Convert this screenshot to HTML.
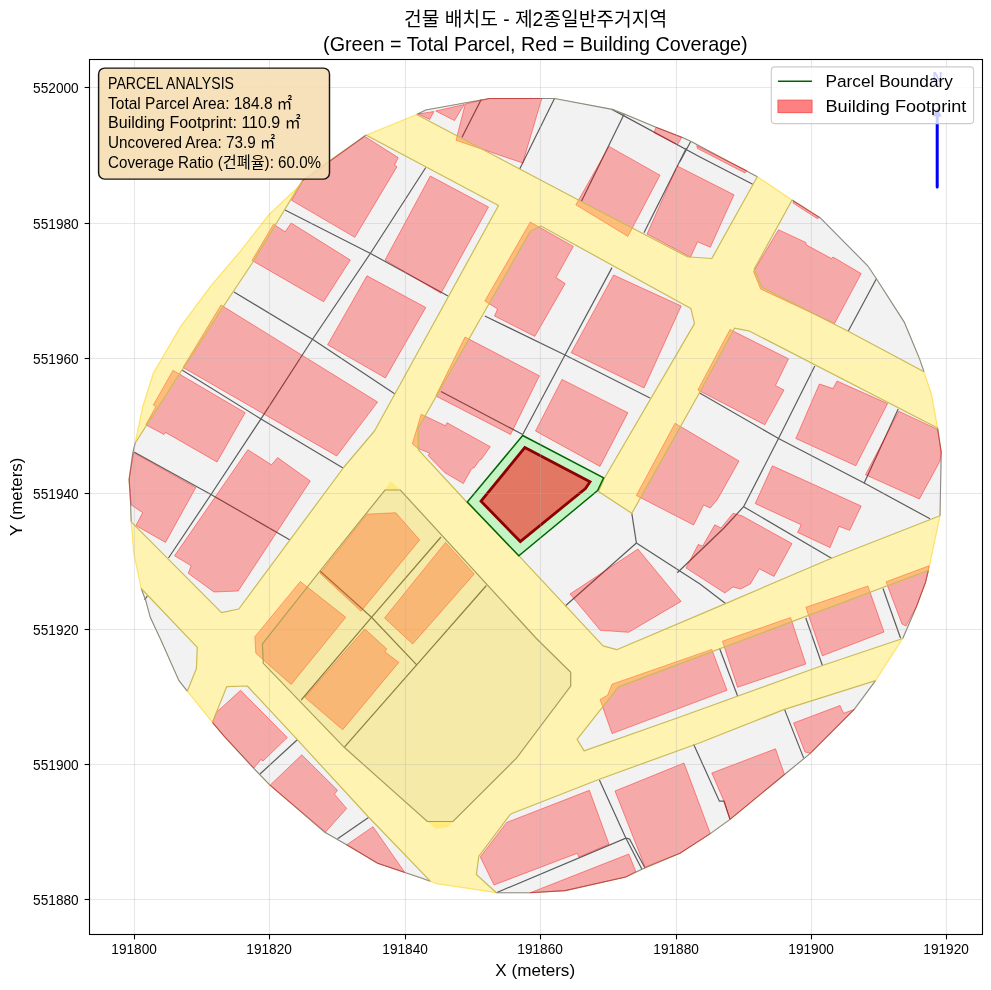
<!DOCTYPE html>
<html lang="ko"><head><meta charset="utf-8"><title>건물 배치도</title>
<style>html,body{margin:0;padding:0;background:#fff}svg{display:block}text{font-family:'Liberation Sans','Noto Sans CJK KR',sans-serif;fill:#000}</style></head><body>
<svg width="991" height="990" viewBox="0 0 991 990">
<rect width="991" height="990" fill="#fff"/>
<clipPath id="ax"><rect x="89.5" y="59.5" width="893.0" height="875.0"/></clipPath>
<g clip-path="url(#ax)">
<polygon points="416.7,114.5 425.8,110.0 489.4,98.5 554.5,98.5 612.1,109.4 624.2,113.9 656.1,127.3 681.8,137.3 690.6,141.2 757.3,176.7 792.1,200.0 820.0,217.6 867.9,266.1 876.4,278.8 904.2,322.1 911.8,340.0 923.9,371.8 931.5,394.5 937.6,427.9 941.2,452.1 940.0,515.8 928.5,570.3 925.5,582.4 916.4,606.7 902.7,638.5 875.5,680.6 854.2,709.4 810.3,753.3 784.5,774.5 730.0,819.4 710.3,833.6 680.0,853.3 642.4,869.1 625.8,877.0 565.2,890.6 530.3,892.7 496.4,892.7 436.4,883.6 430.3,881.2 420.0,877.6 404.8,872.4 377.6,863.3 345.8,844.2 324.5,832.1 270.0,785.2 253.3,767.9 224.5,736.7 212.4,722.4 187.3,691.2 179.1,680.6 160.9,640.0 150.3,617.3 145.8,600.6 141.2,588.5 133.6,552.1 131.2,521.8 130.6,503.6 129.1,479.4 132.7,453.6 135.2,443.0 142.7,406.7 153.3,373.3 165.5,352.4 180.6,326.7 210.9,285.8 240.4,251.2 268.7,214.8 305.0,180.5 329.3,160.8 366.1,135.2" fill="none" stroke="#ffe57a" stroke-width="1.2"/>
<polygon points="366.0,135.0 498.5,205.5 374.5,431.0 344.0,467.0 238.8,609.0 221.5,612.7 131.2,521.8 130.6,503.6 129.1,479.4 132.7,453.6 135.2,443.0 182.0,370.0 189.0,360.0 223.0,307.0 253.3,261.5 302.0,181.0" fill="#f2f2f2"/>
<polygon points="416.7,114.5 425.8,110.0 489.4,98.5 554.5,98.5 612.1,109.4 624.2,113.9 656.0,127.3 681.8,137.3 690.6,141.2 757.3,176.7 711.8,258.5 690.0,257.0 687.9,257.0 581.8,201.8 519.7,169.0" fill="#f2f2f2"/>
<polygon points="792.1,200.0 820.0,217.6 867.9,266.0 876.4,278.8 904.2,322.1 919.4,358.5 924.0,371.8 848.2,331.2 761.8,287.3 754.2,269.0" fill="#f2f2f2"/>
<polygon points="530.3,231.2 540.9,226.0 690.9,308.5 694.5,323.6 604.5,478.0 598.5,491.5 631.8,513.3 701.0,390.0 734.5,328.2 749.7,331.2 937.6,428.0 941.2,452.1 940.0,515.8 831.5,558.2 725.5,603.6 616.7,649.7 603.0,645.8 519.7,556.7 466.7,502.0 418.2,449.7 418.2,428.0" fill="#f2f2f2"/>
<polygon points="618.5,686.9 770.0,629.9 928.5,570.3 925.5,582.4 916.4,606.7 902.7,638.5 822.4,665.5 680.0,717.0 584.1,750.9 577.1,739.4" fill="#f2f2f2"/>
<polygon points="875.5,680.6 854.2,709.4 810.3,753.3 784.5,774.5 730.0,819.4 710.3,833.6 680.0,853.3 642.4,869.1 625.8,877.0 565.2,890.6 530.3,892.7 496.4,892.7 476.4,874.5 478.8,856.4 510.6,814.0 600.0,779.0 700.0,742.7 784.5,709.4" fill="#f2f2f2"/>
<polygon points="141.2,588.5 197.3,647.3 196.4,668.5 187.3,691.2 179.0,680.6 160.9,640.0 150.3,617.3 145.8,600.6" fill="#f2f2f2"/>
<polygon points="226.7,686.7 247.3,686.0 297.3,739.7 368.5,817.0 430.3,881.2 420.0,877.6 404.8,872.4 377.6,863.3 345.8,844.2 324.5,832.1 270.0,785.2 253.3,767.9 224.5,736.7 212.4,722.4" fill="#f2f2f2"/>
<polygon points="385.0,490.0 400.3,490.0 536.4,638.5 570.7,672.3 570.7,686.0 516.7,757.9 453.0,821.5 427.3,821.5 344.2,747.3 263.3,663.3 262.4,644.0 320.0,571.0" fill="#f2f2f2"/>
<polyline points="320.0,571.0 371.5,617.3 416.7,664.8" fill="none" stroke="#5c5c5c" stroke-width="1.2"/>
<polyline points="441.0,537.0 371.5,617.3 301.2,700.0" fill="none" stroke="#5c5c5c" stroke-width="1.2"/>
<polyline points="486.4,585.5 416.7,664.8 344.2,747.3" fill="none" stroke="#5c5c5c" stroke-width="1.2"/>
<polyline points="425.8,167.5 370.0,254.0 312.0,340.0 261.0,418.8 211.0,494.5 168.5,558.0" fill="none" stroke="#5c5c5c" stroke-width="1.2"/>
<polyline points="285.0,210.0 371.5,254.0 448.0,296.0" fill="none" stroke="#5c5c5c" stroke-width="1.2"/>
<polyline points="234.0,292.0 314.0,340.3 395.0,394.0" fill="none" stroke="#5c5c5c" stroke-width="1.2"/>
<polyline points="182.0,370.0 261.0,419.0 343.0,468.0" fill="none" stroke="#5c5c5c" stroke-width="1.2"/>
<polyline points="134.0,452.0 211.0,494.5 290.0,540.0" fill="none" stroke="#5c5c5c" stroke-width="1.2"/>
<polyline points="481.2,99.4 462.0,137.3" fill="none" stroke="#5c5c5c" stroke-width="1.2"/>
<polyline points="554.5,98.5 519.7,169.0" fill="none" stroke="#5c5c5c" stroke-width="1.2"/>
<polyline points="624.2,114.0 581.2,201.8" fill="none" stroke="#5c5c5c" stroke-width="1.2"/>
<polyline points="612.0,109.4 700.0,157.0 752.7,184.2" fill="none" stroke="#5c5c5c" stroke-width="1.2"/>
<polyline points="686.4,148.0 644.0,232.7" fill="none" stroke="#5c5c5c" stroke-width="1.2"/>
<polyline points="690.6,141.8 680.0,161.5" fill="none" stroke="#5c5c5c" stroke-width="1.2"/>
<polyline points="876.4,278.8 848.2,331.2" fill="none" stroke="#5c5c5c" stroke-width="1.2"/>
<polyline points="441.0,391.5 522.7,434.5" fill="none" stroke="#5c5c5c" stroke-width="1.2"/>
<polyline points="522.7,434.5 565.0,355.0 612.0,267.6" fill="none" stroke="#5c5c5c" stroke-width="1.2"/>
<polyline points="484.8,316.0 565.0,355.0 650.0,398.0" fill="none" stroke="#5c5c5c" stroke-width="1.2"/>
<polyline points="631.8,513.3 636.4,543.0" fill="none" stroke="#5c5c5c" stroke-width="1.2"/>
<polyline points="636.4,543.0 565.2,606.0" fill="none" stroke="#5c5c5c" stroke-width="1.2"/>
<polyline points="636.4,543.0 700.0,584.0 725.5,603.6" fill="none" stroke="#5c5c5c" stroke-width="1.2"/>
<polyline points="677.3,572.7 724.0,528.0 743.6,506.7 778.5,438.5 814.8,366.0" fill="none" stroke="#5c5c5c" stroke-width="1.2"/>
<polyline points="699.7,393.0 778.5,438.5 864.2,483.0 930.0,518.8" fill="none" stroke="#5c5c5c" stroke-width="1.2"/>
<polyline points="743.6,506.7 831.5,558.2" fill="none" stroke="#5c5c5c" stroke-width="1.2"/>
<polyline points="898.2,409.0 864.2,483.0" fill="none" stroke="#5c5c5c" stroke-width="1.2"/>
<polyline points="719.4,648.0 737.6,696.0" fill="none" stroke="#5c5c5c" stroke-width="1.2"/>
<polyline points="805.8,618.0 822.4,665.5" fill="none" stroke="#5c5c5c" stroke-width="1.2"/>
<polyline points="883.0,588.5 900.6,638.2" fill="none" stroke="#5c5c5c" stroke-width="1.2"/>
<polyline points="784.5,709.4 803.6,757.9" fill="none" stroke="#5c5c5c" stroke-width="1.2"/>
<polyline points="693.6,744.2 719.4,801.2 724.0,801.2 730.0,819.4" fill="none" stroke="#5c5c5c" stroke-width="1.2"/>
<polyline points="599.4,780.0 625.8,838.0 641.8,869.0" fill="none" stroke="#5c5c5c" stroke-width="1.2"/>
<polyline points="629.4,838.8 625.8,838.2 496.4,892.7" fill="none" stroke="#5c5c5c" stroke-width="1.2"/>
<polyline points="629.4,838.8 645.0,868.0" fill="none" stroke="#5c5c5c" stroke-width="1.2"/>
<polyline points="144.6,600.0 147.3,596.0" fill="none" stroke="#5c5c5c" stroke-width="1.2"/>
<polyline points="297.3,739.7 260.0,774.0" fill="none" stroke="#5c5c5c" stroke-width="1.2"/>
<polyline points="368.5,817.6 337.6,838.8" fill="none" stroke="#5c5c5c" stroke-width="1.2"/>
<polyline points="131.2,521.8 130.6,503.6 129.1,479.4 132.7,453.6 135.2,443.0" fill="none" stroke="#8a8a8a" stroke-width="1.1"/>
<polyline points="302.0,181.0 366.0,135.0" fill="none" stroke="#8a8a8a" stroke-width="1.1"/>
<polyline points="416.7,114.5 425.8,110.0 489.4,98.5 554.5,98.5 612.1,109.4 624.2,113.9 656.0,127.3 681.8,137.3 690.6,141.2 757.3,176.7" fill="none" stroke="#8a8a8a" stroke-width="1.1"/>
<polyline points="792.1,200.0 820.0,217.6 867.9,266.0 876.4,278.8 904.2,322.1 919.4,358.5 924.0,371.8" fill="none" stroke="#8a8a8a" stroke-width="1.1"/>
<polyline points="937.6,428.0 941.2,452.1 940.0,515.8" fill="none" stroke="#8a8a8a" stroke-width="1.1"/>
<polyline points="928.5,570.3 925.5,582.4 916.4,606.7 902.7,638.5" fill="none" stroke="#8a8a8a" stroke-width="1.1"/>
<polyline points="875.5,680.6 854.2,709.4 810.3,753.3 784.5,774.5 730.0,819.4 710.3,833.6 680.0,853.3 642.4,869.1 625.8,877.0 565.2,890.6 530.3,892.7 496.4,892.7" fill="none" stroke="#8a8a8a" stroke-width="1.1"/>
<polyline points="187.3,691.2 179.0,680.6 160.9,640.0 150.3,617.3 145.8,600.6 141.2,588.5" fill="none" stroke="#8a8a8a" stroke-width="1.1"/>
<polyline points="430.3,881.2 420.0,877.6 404.8,872.4 377.6,863.3 345.8,844.2 324.5,832.1 270.0,785.2 253.3,767.9 224.5,736.7 212.4,722.4" fill="none" stroke="#8a8a8a" stroke-width="1.1"/>
<polygon points="364.8,136.4 398.2,157.6 394.5,165.2 397.0,166.7 354.8,237.3 291.5,200.3 303.5,179.8" fill="#ff0000" fill-opacity="0.3" stroke="#ff0000" stroke-opacity="0.4" stroke-width="1"/>
<polygon points="273.5,224.2 285.2,231.8 291.2,223.0 350.3,260.0 323.6,301.8 252.0,260.5" fill="#ff0000" fill-opacity="0.3" stroke="#ff0000" stroke-opacity="0.4" stroke-width="1"/>
<polygon points="430.3,176.0 488.5,207.0 441.0,293.3 385.0,260.0" fill="#ff0000" fill-opacity="0.3" stroke="#ff0000" stroke-opacity="0.4" stroke-width="1"/>
<polygon points="367.0,275.8 425.8,307.5 385.4,378.0 327.6,344.8" fill="#ff0000" fill-opacity="0.3" stroke="#ff0000" stroke-opacity="0.4" stroke-width="1"/>
<polygon points="221.0,305.0 377.6,402.0 336.7,456.0 183.0,367.5" fill="#ff0000" fill-opacity="0.3" stroke="#ff0000" stroke-opacity="0.4" stroke-width="1"/>
<polygon points="173.0,370.3 245.2,412.7 217.0,462.0 165.5,432.4 164.0,434.5 145.8,424.8 155.8,406.7 153.3,405.0" fill="#ff0000" fill-opacity="0.3" stroke="#ff0000" stroke-opacity="0.4" stroke-width="1"/>
<polygon points="133.6,452.7 195.8,487.6 165.5,542.4 135.8,525.5 142.7,512.7 131.2,505.0 129.1,479.4" fill="#ff0000" fill-opacity="0.3" stroke="#ff0000" stroke-opacity="0.4" stroke-width="1"/>
<polygon points="247.9,449.7 271.5,464.8 277.6,457.6 310.3,481.0 238.2,591.0 214.0,592.0 188.2,573.3 191.2,565.8 174.5,555.8" fill="#ff0000" fill-opacity="0.3" stroke="#ff0000" stroke-opacity="0.4" stroke-width="1"/>
<polygon points="418.2,114.0 433.9,111.5 429.7,119.4" fill="#ff0000" fill-opacity="0.3" stroke="#ff0000" stroke-opacity="0.4" stroke-width="1"/>
<polygon points="435.8,111.0 464.2,104.5 454.5,120.6" fill="#ff0000" fill-opacity="0.3" stroke="#ff0000" stroke-opacity="0.4" stroke-width="1"/>
<polygon points="465.2,104.0 489.4,98.5 541.8,98.5 522.7,163.0 456.0,140.3" fill="#ff0000" fill-opacity="0.3" stroke="#ff0000" stroke-opacity="0.4" stroke-width="1"/>
<polygon points="609.0,146.4 660.0,175.2 627.9,236.4 575.8,204.8" fill="#ff0000" fill-opacity="0.3" stroke="#ff0000" stroke-opacity="0.4" stroke-width="1"/>
<polygon points="677.3,166.0 734.0,194.8 710.3,247.3 697.6,241.8 690.6,257.0 689.0,256.4 647.0,234.0" fill="#ff0000" fill-opacity="0.3" stroke="#ff0000" stroke-opacity="0.4" stroke-width="1"/>
<polygon points="656.0,127.3 681.8,137.3 677.3,144.8 654.0,132.7" fill="#ff0000" fill-opacity="0.3" stroke="#ff0000" stroke-opacity="0.4" stroke-width="1"/>
<polygon points="696.7,145.8 746.7,170.6 745.0,173.0 697.6,148.5" fill="#ff0000" fill-opacity="0.3" stroke="#ff0000" stroke-opacity="0.4" stroke-width="1"/>
<polygon points="778.5,229.7 805.8,242.4 806.5,245.0 831.5,258.5 833.0,257.0 861.2,273.6 834.5,323.6 760.6,289.0 753.5,271.5" fill="#ff0000" fill-opacity="0.3" stroke="#ff0000" stroke-opacity="0.4" stroke-width="1"/>
<polygon points="793.6,201.0 819.4,217.6 817.0,218.5 793.0,203.0" fill="#ff0000" fill-opacity="0.3" stroke="#ff0000" stroke-opacity="0.4" stroke-width="1"/>
<polygon points="530.3,222.0 573.3,246.4 556.0,277.6 565.2,283.6 534.8,336.4 494.5,316.0 497.6,309.0 484.8,301.0" fill="#ff0000" fill-opacity="0.3" stroke="#ff0000" stroke-opacity="0.4" stroke-width="1"/>
<polygon points="613.6,275.0 681.2,306.0 644.0,388.0 571.2,352.7" fill="#ff0000" fill-opacity="0.3" stroke="#ff0000" stroke-opacity="0.4" stroke-width="1"/>
<polygon points="465.0,337.0 539.4,375.8 510.6,434.5 435.8,396.0" fill="#ff0000" fill-opacity="0.3" stroke="#ff0000" stroke-opacity="0.4" stroke-width="1"/>
<polygon points="562.0,379.4 627.9,412.7 600.0,466.4 535.5,431.0" fill="#ff0000" fill-opacity="0.3" stroke="#ff0000" stroke-opacity="0.4" stroke-width="1"/>
<polygon points="421.2,414.2 445.5,425.8 447.0,422.7 490.3,446.7 481.2,459.5 479.5,460.2 474.4,467.5 471.7,468.6 463.3,483.6 444.6,472.5 428.3,455.7 429.5,453.1 418.2,448.6 412.3,444.0" fill="#ff0000" fill-opacity="0.3" stroke="#ff0000" stroke-opacity="0.4" stroke-width="1"/>
<polygon points="637.9,549.0 681.1,601.4 628.6,632.3 600.3,630.3 570.0,594.0" fill="#ff0000" fill-opacity="0.3" stroke="#ff0000" stroke-opacity="0.4" stroke-width="1"/>
<polygon points="675.0,423.3 739.0,461.0 719.4,496.0 717.0,500.0 710.3,508.0 703.6,505.0 693.6,525.0 636.3,495.5" fill="#ff0000" fill-opacity="0.3" stroke="#ff0000" stroke-opacity="0.4" stroke-width="1"/>
<polygon points="730.0,329.5 788.5,358.8 775.5,385.5 784.0,390.0 764.8,424.8 697.8,390.0" fill="#ff0000" fill-opacity="0.3" stroke="#ff0000" stroke-opacity="0.4" stroke-width="1"/>
<polygon points="819.4,384.0 833.0,388.5 837.0,381.0 887.6,403.6 855.8,465.8 795.8,438.5" fill="#ff0000" fill-opacity="0.3" stroke="#ff0000" stroke-opacity="0.4" stroke-width="1"/>
<polygon points="898.8,411.2 937.6,429.4 941.2,452.0 940.0,461.0 919.4,499.0 865.5,474.8" fill="#ff0000" fill-opacity="0.3" stroke="#ff0000" stroke-opacity="0.4" stroke-width="1"/>
<polygon points="772.4,465.8 861.2,506.0 849.7,530.3 839.0,526.4 830.0,547.6 797.6,532.4 801.2,524.8 755.2,503.6" fill="#ff0000" fill-opacity="0.3" stroke="#ff0000" stroke-opacity="0.4" stroke-width="1"/>
<polygon points="733.0,513.3 742.0,515.8 792.0,543.6 774.0,576.4 759.4,568.8 750.3,584.0 740.6,589.0 733.0,587.0 724.8,593.0 686.0,568.0 698.2,544.5 702.7,546.0 714.8,524.8 721.0,528.0" fill="#ff0000" fill-opacity="0.3" stroke="#ff0000" stroke-opacity="0.4" stroke-width="1"/>
<polygon points="600.0,699.4 607.6,695.2 612.0,684.2 711.8,649.4 727.0,690.3 612.0,733.6" fill="#ff0000" fill-opacity="0.3" stroke="#ff0000" stroke-opacity="0.4" stroke-width="1"/>
<polygon points="722.4,641.2 790.6,617.5 805.8,664.0 737.6,687.3" fill="#ff0000" fill-opacity="0.3" stroke="#ff0000" stroke-opacity="0.4" stroke-width="1"/>
<polygon points="805.8,607.3 867.9,586.0 884.0,632.0 822.4,655.8" fill="#ff0000" fill-opacity="0.3" stroke="#ff0000" stroke-opacity="0.4" stroke-width="1"/>
<polygon points="886.0,581.8 929.0,565.8 925.5,582.4 916.4,606.7 906.0,626.0 902.0,624.0" fill="#ff0000" fill-opacity="0.3" stroke="#ff0000" stroke-opacity="0.4" stroke-width="1"/>
<polygon points="506.7,822.4 589.4,790.3 609.0,844.2 578.8,857.0 577.3,853.3 494.0,885.0 480.3,857.0" fill="#ff0000" fill-opacity="0.3" stroke="#ff0000" stroke-opacity="0.4" stroke-width="1"/>
<polygon points="530.3,892.7 628.8,854.0 635.8,871.5 625.8,877.0 565.2,890.6" fill="#ff0000" fill-opacity="0.3" stroke="#ff0000" stroke-opacity="0.4" stroke-width="1"/>
<polygon points="615.0,791.0 684.0,763.0 710.3,833.6 680.0,853.3 645.0,867.0" fill="#ff0000" fill-opacity="0.3" stroke="#ff0000" stroke-opacity="0.4" stroke-width="1"/>
<polygon points="711.8,773.0 775.5,748.8 784.5,774.5 730.0,819.4 724.0,801.2" fill="#ff0000" fill-opacity="0.3" stroke="#ff0000" stroke-opacity="0.4" stroke-width="1"/>
<polygon points="793.6,723.0 840.0,705.5 843.6,713.3 854.2,709.4 810.3,753.3 805.0,752.0" fill="#ff0000" fill-opacity="0.3" stroke="#ff0000" stroke-opacity="0.4" stroke-width="1"/>
<polygon points="240.6,690.3 287.3,737.6 263.0,761.0 261.0,759.4 254.0,768.0 224.5,736.7 212.4,722.4 216.4,712.4" fill="#ff0000" fill-opacity="0.3" stroke="#ff0000" stroke-opacity="0.4" stroke-width="1"/>
<polygon points="301.8,754.8 337.6,790.3 334.5,794.2 346.7,808.5 325.5,832.0 270.0,785.2" fill="#ff0000" fill-opacity="0.3" stroke="#ff0000" stroke-opacity="0.4" stroke-width="1"/>
<polygon points="373.0,826.7 404.8,872.4 377.6,863.3 346.7,844.8" fill="#ff0000" fill-opacity="0.3" stroke="#ff0000" stroke-opacity="0.4" stroke-width="1"/>
<polygon points="367.0,514.2 395.8,512.7 419.7,540.0 361.0,611.2 320.0,573.3" fill="#ff0000" fill-opacity="0.3" stroke="#ff0000" stroke-opacity="0.4" stroke-width="1"/>
<polygon points="300.3,581.5 345.8,617.3 291.2,684.5 255.8,653.3 254.8,636.7" fill="#ff0000" fill-opacity="0.3" stroke="#ff0000" stroke-opacity="0.4" stroke-width="1"/>
<polygon points="445.5,542.4 474.2,574.0 412.7,644.0 384.5,618.0" fill="#ff0000" fill-opacity="0.3" stroke="#ff0000" stroke-opacity="0.4" stroke-width="1"/>
<polygon points="364.8,629.0 386.7,648.8 385.0,651.8 398.8,662.4 342.7,729.7 304.8,697.3" fill="#ff0000" fill-opacity="0.3" stroke="#ff0000" stroke-opacity="0.4" stroke-width="1"/>
<path d="M416.7 114.5 L425.8 110.0 L489.4 98.5 L554.5 98.5 L612.1 109.4 L624.2 113.9 L656.1 127.3 L681.8 137.3 L690.6 141.2 L757.3 176.7 L792.1 200.0 L820.0 217.6 L867.9 266.1 L876.4 278.8 L904.2 322.1 L911.8 340.0 L923.9 371.8 L931.5 394.5 L937.6 427.9 L941.2 452.1 L940.0 515.8 L928.5 570.3 L925.5 582.4 L916.4 606.7 L902.7 638.5 L875.5 680.6 L854.2 709.4 L810.3 753.3 L784.5 774.5 L730.0 819.4 L710.3 833.6 L680.0 853.3 L642.4 869.1 L625.8 877.0 L565.2 890.6 L530.3 892.7 L496.4 892.7 L436.4 883.6 L430.3 881.2 L420.0 877.6 L404.8 872.4 L377.6 863.3 L345.8 844.2 L324.5 832.1 L270.0 785.2 L253.3 767.9 L224.5 736.7 L212.4 722.4 L187.3 691.2 L179.1 680.6 L160.9 640.0 L150.3 617.3 L145.8 600.6 L141.2 588.5 L133.6 552.1 L131.2 521.8 L130.6 503.6 L129.1 479.4 L132.7 453.6 L135.2 443.0 L142.7 406.7 L153.3 373.3 L165.5 352.4 L180.6 326.7 L210.9 285.8 L240.4 251.2 L268.7 214.8 L305.0 180.5 L329.3 160.8 L366.1 135.2Z M366.0 135.0 L498.5 205.5 L374.5 431.0 L344.0 467.0 L238.8 609.0 L221.5 612.7 L131.2 521.8 L130.6 503.6 L129.1 479.4 L132.7 453.6 L135.2 443.0 L182.0 370.0 L189.0 360.0 L223.0 307.0 L253.3 261.5 L302.0 181.0Z M416.7 114.5 L425.8 110.0 L489.4 98.5 L554.5 98.5 L612.1 109.4 L624.2 113.9 L656.0 127.3 L681.8 137.3 L690.6 141.2 L757.3 176.7 L711.8 258.5 L690.0 257.0 L687.9 257.0 L581.8 201.8 L519.7 169.0Z M792.1 200.0 L820.0 217.6 L867.9 266.0 L876.4 278.8 L904.2 322.1 L919.4 358.5 L924.0 371.8 L848.2 331.2 L761.8 287.3 L754.2 269.0Z M530.3 231.2 L540.9 226.0 L690.9 308.5 L694.5 323.6 L604.5 478.0 L598.5 491.5 L631.8 513.3 L701.0 390.0 L734.5 328.2 L749.7 331.2 L937.6 428.0 L941.2 452.1 L940.0 515.8 L831.5 558.2 L725.5 603.6 L616.7 649.7 L603.0 645.8 L519.7 556.7 L466.7 502.0 L418.2 449.7 L418.2 428.0Z M618.5 686.9 L770.0 629.9 L928.5 570.3 L925.5 582.4 L916.4 606.7 L902.7 638.5 L822.4 665.5 L680.0 717.0 L584.1 750.9 L577.1 739.4Z M875.5 680.6 L854.2 709.4 L810.3 753.3 L784.5 774.5 L730.0 819.4 L710.3 833.6 L680.0 853.3 L642.4 869.1 L625.8 877.0 L565.2 890.6 L530.3 892.7 L496.4 892.7 L476.4 874.5 L478.8 856.4 L510.6 814.0 L600.0 779.0 L700.0 742.7 L784.5 709.4Z M141.2 588.5 L197.3 647.3 L196.4 668.5 L187.3 691.2 L179.0 680.6 L160.9 640.0 L150.3 617.3 L145.8 600.6Z M226.7 686.7 L247.3 686.0 L297.3 739.7 L368.5 817.0 L430.3 881.2 L420.0 877.6 L404.8 872.4 L377.6 863.3 L345.8 844.2 L324.5 832.1 L270.0 785.2 L253.3 767.9 L224.5 736.7 L212.4 722.4Z M385.0 490.0 L400.3 490.0 L536.4 638.5 L570.7 672.3 L570.7 686.0 L516.7 757.9 L453.0 821.5 L427.3 821.5 L344.2 747.3 L263.3 663.3 L262.4 644.0 L320.0 571.0Z" fill="#ffd700" fill-opacity="0.3" fill-rule="evenodd"/>
<polygon points="390.6,481.0 400.3,490.0 536.4,638.5 570.7,672.3 570.7,686.0 516.7,757.9 453.0,821.5 448.5,826.7 436.4,829.0 427.3,821.5 344.2,747.3 263.3,663.3 262.4,644.0 320.0,571.0 385.0,490.0" fill="#ffd700" fill-opacity="0.3"/>
<polyline points="366.0,135.0 498.5,205.5 374.5,431.0 344.0,467.0 238.8,609.0 221.5,612.7 131.2,521.8" fill="none" stroke="#cbbb55" stroke-width="1.2" stroke-linejoin="round"/>
<polyline points="135.2,443.0 182.0,370.0 189.0,360.0 223.0,307.0 253.3,261.5 302.0,181.0" fill="none" stroke="#cbbb55" stroke-width="1.2" stroke-linejoin="round"/>
<polyline points="757.3,176.7 711.8,258.5 690.0,257.0 687.9,257.0 581.8,201.8 519.7,169.0 416.7,114.5" fill="none" stroke="#cbbb55" stroke-width="1.2" stroke-linejoin="round"/>
<polyline points="924.0,371.8 848.2,331.2 761.8,287.3 754.2,269.0 792.1,200.0" fill="none" stroke="#cbbb55" stroke-width="1.2" stroke-linejoin="round"/>
<polyline points="940.0,515.8 831.5,558.2 725.5,603.6 616.7,649.7 603.0,645.8 519.7,556.7 466.7,502.0 418.2,449.7 418.2,428.0 530.3,231.2 540.9,226.0 690.9,308.5 694.5,323.6 604.5,478.0 598.5,491.5 631.8,513.3 701.0,390.0 734.5,328.2 749.7,331.2 937.6,428.0" fill="none" stroke="#cbbb55" stroke-width="1.2" stroke-linejoin="round"/>
<polyline points="902.7,638.5 822.4,665.5 680.0,717.0 584.1,750.9 577.1,739.4 618.5,686.9 770.0,629.9 928.5,570.3" fill="none" stroke="#cbbb55" stroke-width="1.2" stroke-linejoin="round"/>
<polyline points="496.4,892.7 476.4,874.5 478.8,856.4 510.6,814.0 600.0,779.0 700.0,742.7 784.5,709.4 875.5,680.6" fill="none" stroke="#cbbb55" stroke-width="1.2" stroke-linejoin="round"/>
<polyline points="141.2,588.5 197.3,647.3 196.4,668.5 187.3,691.2" fill="none" stroke="#cbbb55" stroke-width="1.2" stroke-linejoin="round"/>
<polyline points="212.4,722.4 226.7,686.7 247.3,686.0 297.3,739.7 368.5,817.0 430.3,881.2" fill="none" stroke="#cbbb55" stroke-width="1.2" stroke-linejoin="round"/>
<polygon points="385.0,490.0 400.3,490.0 536.4,638.5 570.7,672.3 570.7,686.0 516.7,757.9 453.0,821.5 427.3,821.5 344.2,747.3 263.3,663.3 262.4,644.0 320.0,571.0" fill="none" stroke="#a99e55" stroke-width="1.2"/>
<polygon points="522.7,435.5 603.6,477.9 597.6,490.6 518.8,555.8 467.3,502.0" fill="#c4f4c4" stroke="#006400" stroke-width="1.45" stroke-linejoin="miter"/>
<polygon points="524.8,447.6 590.0,481.8 585.5,488.5 520.3,541.5 481.0,501.2" fill="#e27764" stroke="#8b0000" stroke-width="2.8" stroke-linejoin="miter"/>
<line x1="134.5" y1="59.5" x2="134.5" y2="934.5" stroke="#b0b0b0" stroke-opacity="0.3" stroke-width="1.1"/>
<line x1="89.5" y1="899.5" x2="982.5" y2="899.5" stroke="#b0b0b0" stroke-opacity="0.3" stroke-width="1.1"/>
<line x1="269.5" y1="59.5" x2="269.5" y2="934.5" stroke="#b0b0b0" stroke-opacity="0.3" stroke-width="1.1"/>
<line x1="89.5" y1="764.5" x2="982.5" y2="764.5" stroke="#b0b0b0" stroke-opacity="0.3" stroke-width="1.1"/>
<line x1="405.5" y1="59.5" x2="405.5" y2="934.5" stroke="#b0b0b0" stroke-opacity="0.3" stroke-width="1.1"/>
<line x1="89.5" y1="629.5" x2="982.5" y2="629.5" stroke="#b0b0b0" stroke-opacity="0.3" stroke-width="1.1"/>
<line x1="540.5" y1="59.5" x2="540.5" y2="934.5" stroke="#b0b0b0" stroke-opacity="0.3" stroke-width="1.1"/>
<line x1="89.5" y1="493.5" x2="982.5" y2="493.5" stroke="#b0b0b0" stroke-opacity="0.3" stroke-width="1.1"/>
<line x1="676.5" y1="59.5" x2="676.5" y2="934.5" stroke="#b0b0b0" stroke-opacity="0.3" stroke-width="1.1"/>
<line x1="89.5" y1="358.5" x2="982.5" y2="358.5" stroke="#b0b0b0" stroke-opacity="0.3" stroke-width="1.1"/>
<line x1="811.5" y1="59.5" x2="811.5" y2="934.5" stroke="#b0b0b0" stroke-opacity="0.3" stroke-width="1.1"/>
<line x1="89.5" y1="223.5" x2="982.5" y2="223.5" stroke="#b0b0b0" stroke-opacity="0.3" stroke-width="1.1"/>
<line x1="946.5" y1="59.5" x2="946.5" y2="934.5" stroke="#b0b0b0" stroke-opacity="0.3" stroke-width="1.1"/>
<line x1="89.5" y1="87.5" x2="982.5" y2="87.5" stroke="#b0b0b0" stroke-opacity="0.3" stroke-width="1.1"/>
<text x="937.4" y="81.6" font-size="13.8" font-weight="bold" text-anchor="middle" style="fill:#0000ff">N</text>
<line x1="937.2" y1="187" x2="937.2" y2="114" stroke="#0000ff" stroke-width="3" stroke-linecap="round"/>
<polygon points="937.2,108 932.6,116.5 941.8,116.5" fill="#0000ff"/>
</g>
<rect x="771.3" y="66.9" width="202.3" height="56.7" rx="3.5" fill="#fff" fill-opacity="0.8" stroke="#cccccc" stroke-width="1.1"/>
<line x1="778" y1="81.2" x2="812" y2="81.2" stroke="#006400" stroke-width="1.5"/>
<rect x="778" y="100.2" width="34" height="12.4" fill="#ff8080" stroke="#f55f5f" stroke-width="1.1"/>
<text x="825.5" y="87" font-size="17.1" textLength="127.4" lengthAdjust="spacingAndGlyphs">Parcel Boundary</text>
<text x="825.5" y="111.8" font-size="17.1" textLength="140.8" lengthAdjust="spacingAndGlyphs">Building Footprint</text>
<rect x="98.6" y="68.1" width="230.9" height="111" rx="6" fill="#f5deb3" fill-opacity="0.9" stroke="#151515" stroke-width="1.45"/>
<text x="108.1" y="88.6" font-size="15.7" textLength="125.9" lengthAdjust="spacingAndGlyphs">PARCEL ANALYSIS</text>
<text x="108.1" y="108.8" font-size="15.7" textLength="184.2" lengthAdjust="spacingAndGlyphs">Total Parcel Area: 184.8 ㎡</text>
<text x="108.1" y="127.9" font-size="15.7" textLength="192.6" lengthAdjust="spacingAndGlyphs">Building Footprint: 110.9 ㎡</text>
<text x="108.1" y="148.1" font-size="15.7" textLength="167.1" lengthAdjust="spacingAndGlyphs">Uncovered Area: 73.9 ㎡</text>
<text x="108.1" y="167.8" font-size="15.7" textLength="213.0" lengthAdjust="spacingAndGlyphs">Coverage Ratio (건폐율): 60.0%</text>
<rect x="89.5" y="59.5" width="893.0" height="875.0" fill="none" stroke="#000" stroke-width="1.1"/>
<line x1="134.5" y1="934.5" x2="134.5" y2="939.4" stroke="#000" stroke-width="1.1"/>
<text x="134.1" y="953.9" font-size="14.6" text-anchor="middle" textLength="45.6" lengthAdjust="spacingAndGlyphs">191800</text>
<line x1="84.6" y1="899.5" x2="89.5" y2="899.5" stroke="#000" stroke-width="1.1"/>
<text x="78.7" y="904.8" font-size="14.6" text-anchor="end" textLength="45.6" lengthAdjust="spacingAndGlyphs">551880</text>
<line x1="269.5" y1="934.5" x2="269.5" y2="939.4" stroke="#000" stroke-width="1.1"/>
<text x="269.1" y="953.9" font-size="14.6" text-anchor="middle" textLength="45.6" lengthAdjust="spacingAndGlyphs">191820</text>
<line x1="84.6" y1="764.5" x2="89.5" y2="764.5" stroke="#000" stroke-width="1.1"/>
<text x="78.7" y="769.8" font-size="14.6" text-anchor="end" textLength="45.6" lengthAdjust="spacingAndGlyphs">551900</text>
<line x1="405.5" y1="934.5" x2="405.5" y2="939.4" stroke="#000" stroke-width="1.1"/>
<text x="405.1" y="953.9" font-size="14.6" text-anchor="middle" textLength="45.6" lengthAdjust="spacingAndGlyphs">191840</text>
<line x1="84.6" y1="629.5" x2="89.5" y2="629.5" stroke="#000" stroke-width="1.1"/>
<text x="78.7" y="634.8" font-size="14.6" text-anchor="end" textLength="45.6" lengthAdjust="spacingAndGlyphs">551920</text>
<line x1="540.5" y1="934.5" x2="540.5" y2="939.4" stroke="#000" stroke-width="1.1"/>
<text x="540.1" y="953.9" font-size="14.6" text-anchor="middle" textLength="45.6" lengthAdjust="spacingAndGlyphs">191860</text>
<line x1="84.6" y1="493.5" x2="89.5" y2="493.5" stroke="#000" stroke-width="1.1"/>
<text x="78.7" y="498.8" font-size="14.6" text-anchor="end" textLength="45.6" lengthAdjust="spacingAndGlyphs">551940</text>
<line x1="676.5" y1="934.5" x2="676.5" y2="939.4" stroke="#000" stroke-width="1.1"/>
<text x="676.1" y="953.9" font-size="14.6" text-anchor="middle" textLength="45.6" lengthAdjust="spacingAndGlyphs">191880</text>
<line x1="84.6" y1="358.5" x2="89.5" y2="358.5" stroke="#000" stroke-width="1.1"/>
<text x="78.7" y="363.8" font-size="14.6" text-anchor="end" textLength="45.6" lengthAdjust="spacingAndGlyphs">551960</text>
<line x1="811.5" y1="934.5" x2="811.5" y2="939.4" stroke="#000" stroke-width="1.1"/>
<text x="811.1" y="953.9" font-size="14.6" text-anchor="middle" textLength="45.6" lengthAdjust="spacingAndGlyphs">191900</text>
<line x1="84.6" y1="223.5" x2="89.5" y2="223.5" stroke="#000" stroke-width="1.1"/>
<text x="78.7" y="228.8" font-size="14.6" text-anchor="end" textLength="45.6" lengthAdjust="spacingAndGlyphs">551980</text>
<line x1="946.5" y1="934.5" x2="946.5" y2="939.4" stroke="#000" stroke-width="1.1"/>
<text x="946.1" y="953.9" font-size="14.6" text-anchor="middle" textLength="45.6" lengthAdjust="spacingAndGlyphs">191920</text>
<line x1="84.6" y1="87.5" x2="89.5" y2="87.5" stroke="#000" stroke-width="1.1"/>
<text x="78.7" y="92.8" font-size="14.6" text-anchor="end" textLength="45.6" lengthAdjust="spacingAndGlyphs">552000</text>
<text x="535.2" y="975.5" font-size="16.67" text-anchor="middle" textLength="79.8" lengthAdjust="spacingAndGlyphs">X (meters)</text>
<text transform="translate(22.4,496.8) rotate(-90)" font-size="16.67" text-anchor="middle" textLength="78.4" lengthAdjust="spacingAndGlyphs">Y (meters)</text>
<text x="535.6" y="25.6" font-size="19.44" text-anchor="middle" textLength="263" lengthAdjust="spacingAndGlyphs">건물 배치도 - 제2종일반주거지역</text>
<text x="535.4" y="50.9" font-size="19.44" text-anchor="middle" textLength="424.6" lengthAdjust="spacingAndGlyphs">(Green = Total Parcel, Red = Building Coverage)</text>
</svg></body></html>
